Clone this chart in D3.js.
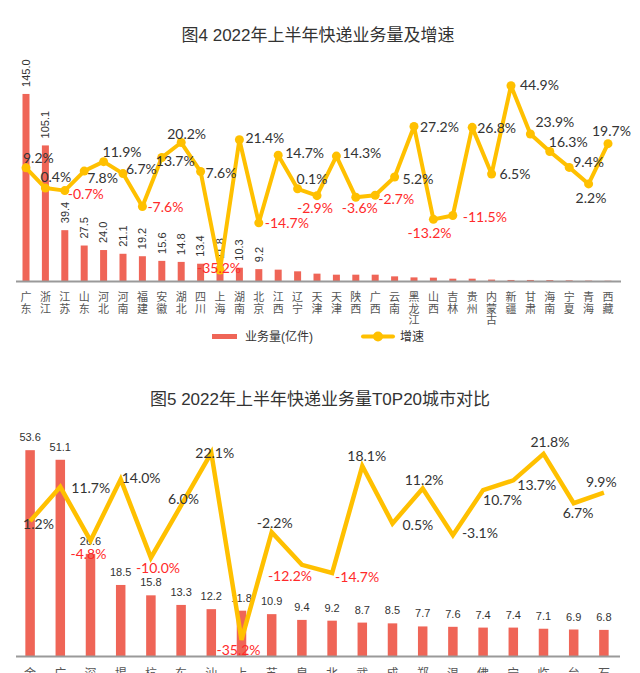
<!DOCTYPE html>
<html><head><meta charset="utf-8">
<script src="https://cdn.jsdelivr.net/npm/d3@7/dist/d3.min.js"></script>
<style>
html,body{margin:0;padding:0;background:#fff;}
svg{display:block;}
</style></head>
<body><svg id="c" width="640" height="673"></svg>
<script>
// ---------- Data: chart 1 ----------
const provinces = ["广东","浙江","江苏","山东","河北","河南","福建","安徽","湖北","四川","上海","湖南","北京","江西","辽宁","天津","天津","陕西","广西","云南","黑龙江","山西","吉林","贵州","内蒙古","新疆","甘肃","海南","宁夏","青海","西藏"];
const provVolume = [145.0,105.1,39.4,27.5,24.0,21.1,19.2,15.6,14.8,13.4,11.8,10.3,9.2,8.8,7.5,5.7,4.9,4.9,4.9,3.6,2.8,2.6,1.8,1.8,1.1,0.8,0.8,0.7,0.5,0.3,0.2];
const provVolumeLabelCount = 13;
const provGrowth = [9.2,0.4,-0.7,7.8,11.9,6.7,-7.6,13.7,20.2,7.6,-35.2,21.4,-14.7,14.7,0.1,-2.9,14.3,-3.6,-2.7,5.2,27.2,-13.2,-11.5,26.8,6.5,44.9,23.9,16.3,9.4,2.2,19.7];
const title1 = "图4 2022年上半年快递业务量及增速";
const legendVolume = "业务量(亿件)";
const legendGrowth = "增速";

// ---------- Data: chart 2 ----------
const cities = ["金华","广州","深圳","揭阳","杭州","东莞","汕头","上海","苏州","泉州","北京","武汉","成都","郑州","温州","佛山","宁波","临沂","台州","石家庄"];
const cityVolume = [53.6,51.1,26.6,18.5,15.8,13.3,12.2,11.8,10.9,9.4,9.2,8.7,8.5,7.7,7.6,7.4,7.4,7.1,6.9,6.8];
const cityGrowth = [1.2,11.7,-4.8,14.0,-10.0,6.0,22.1,-35.2,-2.2,-12.2,-14.7,18.1,0.5,11.2,-3.1,10.7,13.7,21.8,6.7,9.9];
const cityGrowthRed = [false,false,true,false,true,false,false,true,false,true,true,false,false,false,false,false,false,false,false,false];
const title2 = "图5 2022年上半年快递业务量T0P20城市对比";

// ---------- Layout (label placement offsets, not data) ----------
const provLabelOffsets = [[-3,-5],[-5,-6],[3,8],[3,12],[-1,-5],[3,0],[5,6],[-6,9],[-14,-4],[5,6],[-23,3],[6,3],[6,5],[7,3],[-1,-5],[-20,17],[6,2],[-14,16],[3,9],[8,7],[6,6],[-26,19],[10,7],[5,6],[8,5],[9,4],[5,-7],[-1,-5],[4,0],[-13,19],[-16,-8]];
const cityLabelOffsets = [[-7,8],[11,6],[-20,18],[1,4],[-15,15],[-13,-1],[-16,5],[-25,15],[-15,-4],[-34,16],[3,9],[-15,-5],[10,7],[-18,-3],[9,3],[0,15],[4,10],[-13,-7],[-11,15],[-18,-6]];

const BAR = "#EF6557", LINE = "#FFC000", RED = "#FF2A2A", TXT = "#333", AXIS = "#9a9a9a";
const numFont = "Lato, 'Noto Sans', sans-serif";
const cjkFont = "'Liberation Sans', 'Noto Sans CJK SC', sans-serif";

const svg = d3.select("#c");

// ================= Chart 1 =================
{
  const g = svg.append("g");
  const base = 281;
  const x = d3.scaleBand().domain(d3.range(provinces.length)).range([16.3, 617.7]).padding(0);
  const cx = i => x(i) + x.bandwidth() / 2;
  const yV = d3.scaleLinear().domain([0, 160]).range([base, base - 206.4]);
  const yG = d3.scaleLinear().domain([-40, 50]).range([base, base - 207]);

  g.append("text").attr("x", 318).attr("y", 41).attr("text-anchor", "middle")
    .attr("font-family", cjkFont).attr("font-size", 17).attr("fill", TXT).text(title1);

  g.selectAll("rect.bar").data(provVolume).join("rect").attr("class", "bar")
    .attr("x", (d, i) => cx(i) - 3.5).attr("width", 7)
    .attr("y", d => yV(d)).attr("height", d => base - yV(d)).attr("fill", BAR);

  g.append("line").attr("x1", 16).attr("x2", 621).attr("y1", base + 0.5).attr("y2", base + 0.5)
    .attr("stroke", AXIS).attr("stroke-width", 2);

  // rotated volume labels
  g.selectAll("text.vl").data(provVolume.slice(0, provVolumeLabelCount)).join("text").attr("class", "vl")
    .attr("transform", (d, i) => `translate(${cx(i)},${yV(d) - 7}) rotate(-90)`)
    .attr("dy", "0.35em").attr("font-family", "'Liberation Sans', Arial, sans-serif")
    .attr("font-size", 11).attr("fill", TXT).text(d => d.toFixed(1));

  const line = d3.line().x((d, i) => cx(i)).y(d => yG(d));
  g.append("path").datum(provGrowth).attr("d", line).attr("fill", "none")
    .attr("stroke", LINE).attr("stroke-width", 4).attr("stroke-linejoin", "round");
  g.selectAll("circle.pt").data(provGrowth).join("circle").attr("class", "pt")
    .attr("cx", (d, i) => cx(i)).attr("cy", d => yG(d)).attr("r", 4.5).attr("fill", LINE);

  g.selectAll("text.gl").data(provGrowth).join("text").attr("class", "gl")
    .attr("x", (d, i) => cx(i) + provLabelOffsets[i][0])
    .attr("y", (d, i) => yG(d) + provLabelOffsets[i][1])
    .attr("font-family", numFont).attr("font-size", 14)
    .attr("fill", d => d < 0 ? RED : TXT).text(d => d.toFixed(1) + "%");

  // x labels vertical
  const xl = g.selectAll("text.xl").data(provinces).join("text").attr("class", "xl")
    .attr("font-family", cjkFont).attr("font-size", 11).attr("fill", "#555").attr("text-anchor", "middle");
  xl.each(function (d, i) {
    const t = d3.select(this);
    Array.from(d).forEach((ch, k) => {
      t.append("tspan").attr("x", cx(i)).attr("y", 301 + k * 11.5).text(ch);
    });
  });

  // legend
  const lg = g.append("g");
  lg.append("rect").attr("x", 212).attr("y", 334).attr("width", 25).attr("height", 5).attr("fill", BAR);
  lg.append("text").attr("x", 245).attr("y", 341).attr("font-family", cjkFont).attr("font-size", 12)
    .attr("fill", TXT).text(legendVolume);
  lg.append("line").attr("x1", 363).attr("x2", 393).attr("y1", 336.5).attr("y2", 336.5)
    .attr("stroke", LINE).attr("stroke-width", 4).attr("stroke-linecap", "round");
  lg.append("circle").attr("cx", 378).attr("cy", 336.5).attr("r", 5).attr("fill", LINE);
  lg.append("text").attr("x", 400).attr("y", 341).attr("font-family", cjkFont).attr("font-size", 12)
    .attr("fill", TXT).text(legendGrowth);
}

// ================= Chart 2 =================
{
  const g = svg.append("g");
  const base = 656;
  const x = d3.scaleBand().domain(d3.range(cities.length)).range([15, 619]).padding(0);
  const cx = i => x(i) + x.bandwidth() / 2;
  const yV = d3.scaleLinear().domain([0, 60]).range([base, base - 230.4]);
  const yG = d3.scaleLinear().domain([-40, 35]).range([655.6, 410.8]);

  g.append("text").attr("x", 320).attr("y", 405).attr("text-anchor", "middle")
    .attr("font-family", cjkFont).attr("font-size", 17).attr("fill", TXT).text(title2);

  g.selectAll("rect.bar").data(cityVolume).join("rect").attr("class", "bar")
    .attr("x", (d, i) => cx(i) - 4.75).attr("width", 9.5)
    .attr("y", d => yV(d)).attr("height", d => base - yV(d)).attr("fill", BAR);

  g.append("line").attr("x1", 16).attr("x2", 620).attr("y1", base + 0.5).attr("y2", base + 0.5)
    .attr("stroke", AXIS).attr("stroke-width", 2);

  g.selectAll("text.vl").data(cityVolume).join("text").attr("class", "vl")
    .attr("x", (d, i) => cx(i)).attr("y", d => yV(d) - 9).attr("text-anchor", "middle")
    .attr("font-family", "'Liberation Sans', Arial, sans-serif").attr("font-size", 11)
    .attr("fill", TXT).text(d => d.toFixed(1));

  const line = d3.line().x((d, i) => cx(i)).y(d => yG(d));
  g.append("path").datum(cityGrowth).attr("d", line).attr("fill", "none")
    .attr("stroke", LINE).attr("stroke-width", 4.5).attr("stroke-linejoin", "miter");

  g.selectAll("text.gl").data(cityGrowth).join("text").attr("class", "gl")
    .attr("x", (d, i) => cx(i) + cityLabelOffsets[i][0])
    .attr("y", (d, i) => yG(d) + cityLabelOffsets[i][1])
    .attr("font-family", numFont).attr("font-size", 14)
    .attr("fill", (d, i) => cityGrowthRed[i] ? RED : TXT).text(d => d.toFixed(1) + "%");

  const xl = g.selectAll("text.xl").data(cities).join("text").attr("class", "xl")
    .attr("font-family", cjkFont).attr("font-size", 12).attr("fill", "#555").attr("text-anchor", "middle");
  xl.each(function (d, i) {
    const t = d3.select(this);
    Array.from(d).forEach((ch, k) => {
      t.append("tspan").attr("x", cx(i)).attr("y", 678 + k * 13).text(ch);
    });
  });
}
</script></body></html>
